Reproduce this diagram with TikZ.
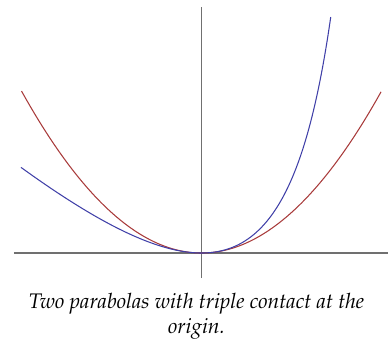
\documentclass[tikz,border=0pt]{standalone}
\usepackage[T1]{fontenc}
\usepackage{mathpazo}
\definecolor{axisgray}{HTML}{707070}
\definecolor{curvered}{HTML}{A83A3A}
\definecolor{curveblue}{HTML}{4040A8}
\tikzset{
  axisline/.style={draw=axisgray, line width=0.6pt},
  redcurve/.style={draw=curvered, line width=0.6pt},
  bluecurve/.style={draw=curveblue, line width=0.6pt},
  captiontext/.style={font=\itshape\fontsize{12}{14.2}\selectfont, align=center, inner sep=0pt}
}
\begin{document}
\begin{tikzpicture}[x=0.02cm, y=0.02cm]
  \useasboundingbox (-201.5,-86) rectangle (186.5,253);
  \coordinate (xl) at (-187.5,0);
  \coordinate (xr) at (186.5,0);
  \coordinate (yb) at (0,-25);
  \coordinate (yt) at (0,246);
  \draw[axisline] (xl) -- (xr);
  \draw[axisline] (yb) -- (yt);
  \draw[redcurve] plot[domain=-0.9:0.9, samples=200, smooth] ({200*\x},{200*\x*\x});
  \draw[bluecurve] plot[domain=-0.9025:0.649, samples=200, smooth] ({200*\x},{200*\x*\x/(1-\x)});
  \node[captiontext, anchor=north] (cap) at (-5,-40) {Two parabolas with triple contact at the\\origin.};
\end{tikzpicture}
\end{document}
